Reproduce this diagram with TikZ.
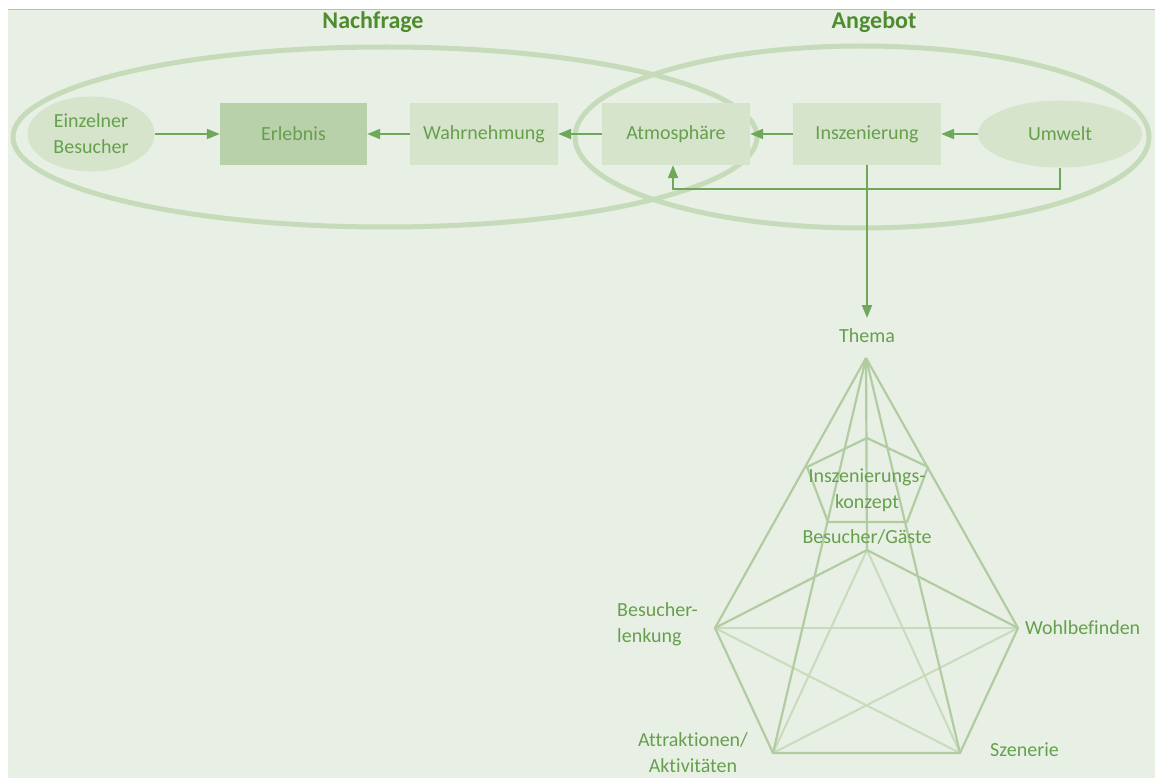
\documentclass[tikz,border=0pt]{standalone}
\usepackage{fontspec}
\setmainfont{Carlito}[Ligatures=NoCommon]
\usetikzlibrary{arrows.meta,shapes.geometric}

\definecolor{bgpaper}{HTML}{E8F0E5}
\definecolor{ringcol}{HTML}{C6DBB9}
\definecolor{boxlight}{HTML}{D5E4CB}
\definecolor{boxdark}{HTML}{B9D1AB}
\definecolor{txtcol}{HTML}{66A04D}
\definecolor{titlecol}{HTML}{4E8C2E}
\definecolor{arrcol}{HTML}{6FA85A}
\definecolor{edgecol}{HTML}{B2CCA2}
\definecolor{diagcol}{HTML}{C8DBBC}
\definecolor{rulecol}{HTML}{B8BEB4}

\tikzset{
  basetext/.style={text=txtcol, font=\fontsize{20}{26}\selectfont, align=center, inner sep=0pt},
  titletext/.style={text=titlecol, font=\fontsize{24}{28}\selectfont\bfseries, inner sep=0pt},
  ring/.style={draw=ringcol, line width=5pt},
  boxnode/.style={basetext, rectangle, fill=boxlight, minimum width=148pt, minimum height=62pt},
  ovalnode/.style={basetext, ellipse, fill=boxlight, inner sep=0pt},
  arr/.style={draw=arrcol, line width=2pt, -{Triangle[length=13pt,width=10pt]}},
  pedge/.style={draw=edgecol, line width=2.2pt, line join=round},
  pdiag/.style={draw=diagcol, line width=2pt},
}

\begin{document}
\begin{tikzpicture}[x=1pt,y=-1pt]
  \useasboundingbox (0,0) rectangle (1155,778);
  % paper and top rule
  \fill[white] (0,0) rectangle (1155,778);
  \fill[bgpaper] (8,10) rectangle (1155,778);
  \draw[rulecol, line width=1.5pt] (8,9.5) -- (1155,9.5);

  % demand and supply rings
  \draw[ring] (385,137) ellipse [x radius=372, y radius=90];
  \draw[ring] (862,137) ellipse [x radius=287, y radius=91];
  \node[titletext] (nachfrage) at (373,22) {Nachfrage};
  \node[titletext] (angebot) at (874,22) {Angebot};

  % chain of nodes
  \node[ovalnode, minimum width=127pt, minimum height=75pt] (besucher) at (91,134) {Einzelner\\Besucher};
  \node[boxnode, fill=boxdark, minimum width=147pt] (erlebnis) at (293.5,134) {Erlebnis};
  \node[boxnode] (wahr) at (484,134) {Wahrnehmung};
  \node[boxnode] (atmo) at (676,134) {Atmosphäre};
  \node[boxnode] (insz) at (867,134) {Inszenierung};
  \node[ovalnode, minimum width=164pt, minimum height=67pt] (umwelt) at (1060,134) {Umwelt};

  \draw[arr] (besucher) -- (erlebnis);
  \draw[arr] (wahr) -- (erlebnis);
  \draw[arr] (atmo) -- (wahr);
  \draw[arr] (insz) -- (atmo);
  \draw[arr] (umwelt) -- (insz);
  \draw[arr] (umwelt.south) -- ++(0,21) -| ([xshift=-3pt]atmo.south);

  % theme label and the line down to it
  \node[basetext] (thema) at (867,336) {Thema};
  \coordinate (themaTip) at (867,318);
  \draw[arr] (insz.south) -- (themaTip);

  % pyramid vertices
  \coordinate (T) at (866,358);
  \coordinate (P1) at (867,438);
  \coordinate (P2) at (928,467);
  \coordinate (P3) at (907,522);
  \coordinate (P4) at (828,522);
  \coordinate (P5) at (807,467);
  \coordinate (G) at (867,550);
  \coordinate (L) at (715,628);
  \coordinate (W) at (1018,628);
  \coordinate (A) at (773,753);
  \coordinate (S) at (960,753);

  % inner star of the outer pentagon
  \draw[pdiag] (L) -- (W);
  \draw[pdiag] (L) -- (S);
  \draw[pdiag] (W) -- (A);
  \draw[pdiag] (G) -- (A);
  \draw[pdiag] (G) -- (S);

  % outer pentagon and apex lines
  \draw[pedge] (G) -- (W) -- (S) -- (A) -- (L) -- cycle;
  \draw[pedge] (T) -- (L);
  \draw[pedge] (T) -- (A);
  \draw[pedge] (T) -- (G);
  \draw[pedge] (T) -- (S);
  \draw[pedge] (T) -- (W);

  % inner pentagon
  \draw[pedge] (P1) -- (P2) -- (P3) -- (P4) -- (P5) -- cycle;

  % pyramid labels
  \node[basetext] (konzept) at (867,490) {Inszenierungs-\\konzept};
  \node[basetext] (gaeste) at (867,537) {Besucher/Gäste};
  \node[basetext, align=left, anchor=west] (lenkung) at (617,624) {Besucher-\\lenkung};
  \node[basetext, anchor=west] (wohl) at (1025,628) {Wohlbefinden};
  \node[basetext] (attr) at (693,753) {Attraktionen/\\Aktivitäten};
  \node[basetext, anchor=west] (szen) at (990,750) {Szenerie};
\end{tikzpicture}
\end{document}
